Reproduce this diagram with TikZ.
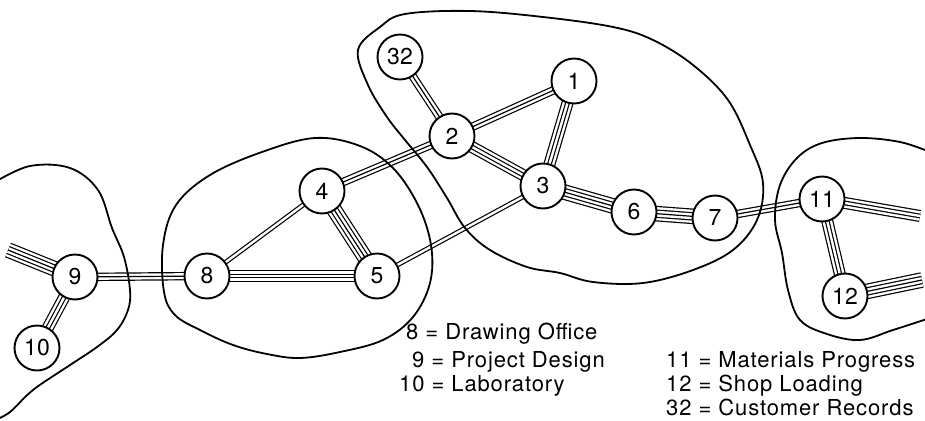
\documentclass[tikz,border=0pt]{standalone}
\usepackage{fontspec}
\setmainfont{TeX Gyre Heros}
\newfontfamily\legfont[LetterSpace=4]{TeX Gyre Heros}
\pgfdeclarelayer{bg}
\pgfsetlayers{bg,main}
\tikzset{
  unit/.style={circle, draw, line width=1.9pt, fill=white, minimum size=45pt, inner sep=0pt,
    font=\fontsize{23}{23}\selectfont},
  bb2/.style={draw=black, line width=4.8pt, postaction={draw=white, line width=2.4pt}},
  bb3/.style={draw=black, line width=8.4pt, postaction={draw=white, line width=6.0pt},
    postaction={draw=black, line width=1.2pt}},
  bb4/.style={draw=black, line width=12.0pt, postaction={draw=white, line width=9.6pt},
    postaction={draw=black, line width=4.8pt}, postaction={draw=white, line width=2.4pt}},
  bb5/.style={draw=black, line width=15.6pt, postaction={draw=white, line width=13.2pt},
    postaction={draw=black, line width=8.4pt}, postaction={draw=white, line width=6.0pt},
    postaction={draw=black, line width=1.2pt}},
  blob/.style={draw=black, line width=1.8pt, line join=round},
  leg/.style={anchor=base west, inner sep=0pt, font=\legfont\fontsize{22}{22}\selectfont}
}
\begin{document}
\begin{tikzpicture}[x=1pt, y=-1pt]
\useasboundingbox (0,0) rectangle (925,420);
% nodes
\node[unit] (n32) at (400,57) {32};
\node[unit] (n1) at (574,81) {1};
\node[unit] (n2) at (452,136) {2};
\node[unit] (n3) at (543,186) {3};
\node[unit] (n4) at (322,191) {4};
\node[unit] (n5) at (377,276) {5};
\node[unit] (n6) at (634,212) {6};
\node[unit] (n7) at (715,218) {7};
\node[unit] (n8) at (207,276) {8};
\node[unit] (n9) at (75,277) {9};
\node[unit] (n10) at (37,348) {10};
\node[unit] (n11) at (822,199) {11};
\node[unit] (n12) at (845,296) {12};
\coordinate (eL) at (8,250);
\coordinate (eR1) at (920,216);
\coordinate (eR2) at (922,280);
% connectors
\begin{pgfonlayer}{bg}
\draw[bb5] (n9.center) -- (eL);
\draw[bb4] (n9.center) -- (n10.center);
\draw[bb3] (n9.center) -- (n8.center);
\draw[bb2] (n8.center) -- (n4.center);
\draw[bb4] (n8.center) -- (n5.center);
\draw[bb5] (n4.center) -- (n5.center);
\draw[bb3] (n4.center) -- (n2.center);
\draw[bb2] (n5.center) -- (n3.center);
\draw[bb3] (n2.center) -- (n32.center);
\draw[bb3] (n2.center) -- (n1.center);
\draw[bb4] (n2.center) -- (n3.center);
\draw[bb4] (n1.center) -- (n3.center);
\draw[bb5] (n3.center) -- (n6.center);
\draw[bb5] (n6.center) -- (n7.center);
\draw[bb3] (n7.center) -- (n11.center);
\draw[bb4] (n11.center) -- (eR1);
\draw[bb4] (n11.center) -- (n12.center);
\draw[bb5] (n12.center) -- (eR2);
\end{pgfonlayer}
% groups
\draw[blob] plot[smooth, tension=0.6] coordinates {(-5,182) (30,166) (70,168) (98,190) (112,228) (124,257) (130,290) (128,310) (117,330) (97,347) (67,367) (33,390) (10,412) (-5,420)};
\draw[blob] plot[smooth cycle, tension=0.6] coordinates {(163,245) (176,205) (210,175) (262,152) (315,138) (360,146) (393,168) (418,205) (431,245) (430,283) (413,317) (383,340) (340,352) (300,358) (267,354) (233,345) (200,330) (175,315) (164,292)};
\draw[blob] plot[smooth cycle, tension=0.6] coordinates {(358,50) (380,27) (405,14) (470,11) (543,17) (613,27) (653,40) (693,65) (728,100) (750,145) (763,183) (757,220) (733,250) (693,270) (643,283) (593,282) (560,273) (527,267) (490,250) (465,228) (447,198) (427,167) (405,140) (387,117) (368,85)};
\draw[blob] plot[smooth, tension=0.6] coordinates {(930,152) (900,142) (860,138) (822,143) (797,158) (780,185) (775,220) (782,253) (788,290) (800,320) (827,334) (860,340) (893,330) (930,318)};
% legend
\node[leg] (k8) at (406,339) {8 = Drawing Office};
\node[leg] (k9) at (412,367) {9 = Project Design};
\node[leg] (k10) at (399,391) {10 = Laboratory};
\node[leg] (k11) at (666,367) {11 = Materials Progress};
\node[leg] (k12) at (666,391) {12 = Shop Loading};
\node[leg] (k32) at (666,415) {32 = Customer Records};
\end{tikzpicture}
\end{document}
